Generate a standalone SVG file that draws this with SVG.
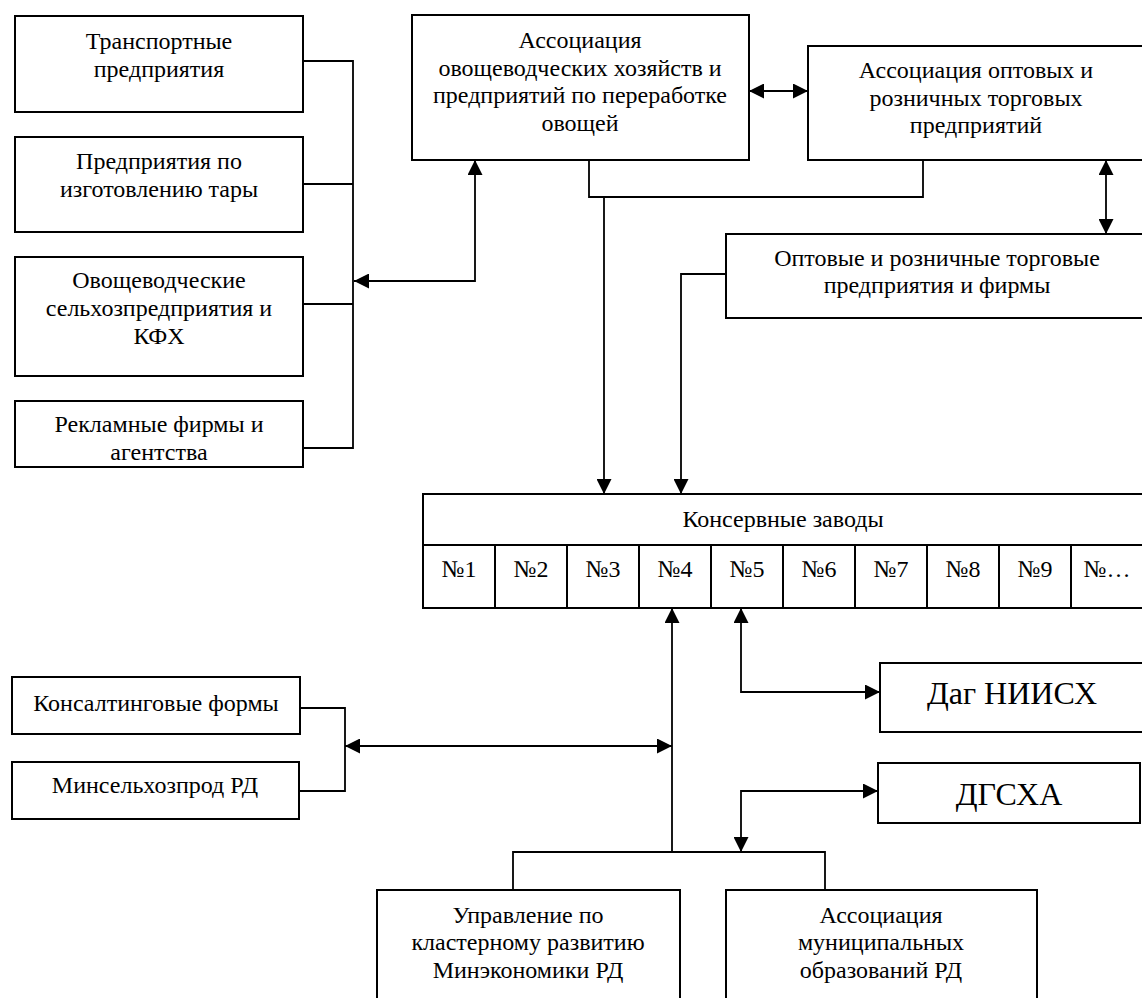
<svg xmlns="http://www.w3.org/2000/svg" width="1142" height="998" viewBox="0 0 1142 998">
<defs>
<marker id="arr" viewBox="0 0 15 15" refX="15" refY="7.5" markerWidth="15" markerHeight="15" markerUnits="userSpaceOnUse" orient="auto-start-reverse">
<path d="M0,0 L15,7.5 L0,15 z" fill="#000"/>
</marker>
<style>
.box{fill:#fff;stroke:#000;stroke-width:2}
.ln{fill:none;stroke:#000;stroke-width:1.8}
.a2{marker-start:url(#arr);marker-end:url(#arr)}
.a1{marker-end:url(#arr)}
text{font-size:24px;fill:#000;text-anchor:middle}
.big{font-size:32px}
</style>
</defs>
<rect width="1142" height="998" fill="#fff"/>
<g id="connectors">
<path class="ln" d="M303,61 H353 V448 H303 M303,184 H353 M303,304 H353"/>
<path class="ln a2" d="M354,281 H475 V160"/>
<path class="ln a2" d="M749,91 H808"/>
<path class="ln" d="M589,160 V197 H923 V160"/>
<path class="ln a1" d="M604,197 V494"/>
<path class="ln a1" d="M726,274 H681 V494"/>
<path class="ln a2" d="M1106,160 V234"/>
<path class="ln a1" d="M672,852 V608"/>
<path class="ln a2" d="M345,746 H672"/>
<path class="ln" d="M300,708 H345 V791 H299"/>
<path class="ln a2" d="M741,608 V692 H880"/>
<path class="ln a2" d="M878,791 H741 V852"/>
<path class="ln" d="M513,890 V852 H825 V890"/>
</g>
<g font-family="Liberation Serif, DejaVu Serif, serif">
<g id="n-transport">
<rect class="box" x="15" y="16" width="288" height="96"/>
<text x="159" y="49">Транспортные</text>
<text x="159" y="77">предприятия</text>
</g>
<g id="n-tara">
<rect class="box" x="15" y="137" width="288" height="95"/>
<text x="159" y="169">Предприятия по</text>
<text x="159" y="197">изготовлению тары</text>
</g>
<g id="n-ovosch">
<rect class="box" x="15" y="257" width="288" height="119"/>
<text x="159" y="288">Овощеводческие</text>
<text x="159" y="316">сельхозпредприятия и</text>
<text x="159" y="344">КФХ</text>
</g>
<g id="n-reklama">
<rect class="box" x="15" y="401" width="288" height="66"/>
<text x="159" y="432">Рекламные фирмы и</text>
<text x="159" y="460">агентства</text>
</g>
<g id="n-assoc-ovosch">
<rect class="box" x="412" y="15" width="337" height="145"/>
<text x="580" y="48">Ассоциация</text>
<text x="580" y="76">овощеводческих хозяйств и</text>
<text x="580" y="103">предприятий по переработке</text>
<text x="580" y="131">овощей</text>
</g>
<g id="n-assoc-torg">
<rect class="box" x="808" y="46" width="340" height="114"/>
<text x="976" y="78">Ассоциация оптовых и</text>
<text x="976" y="106">розничных торговых</text>
<text x="976" y="133">предприятий</text>
</g>
<g id="n-optovye">
<rect class="box" x="726" y="234" width="422" height="84"/>
<text x="937" y="266">Оптовые и розничные торговые</text>
<text x="937" y="293">предприятия и фирмы</text>
</g>
<g id="n-konserv">
<rect class="box" x="423" y="494" width="724" height="114"/>
<path class="box" d="M423,545 H1147 M495,545 V608 M567,545 V608 M639,545 V608 M711,545 V608 M783,545 V608 M855,545 V608 M927,545 V608 M999,545 V608 M1071,545 V608"/>
<text x="783" y="527">Консервные заводы</text>
<text x="459" y="577">№1</text>
<text x="531" y="577">№2</text>
<text x="603" y="577">№3</text>
<text x="675" y="577">№4</text>
<text x="747" y="577">№5</text>
<text x="819" y="577">№6</text>
<text x="891" y="577">№7</text>
<text x="963" y="577">№8</text>
<text x="1035" y="577">№9</text>
<text x="1107" y="577">№…</text>
</g>
<g id="n-konsalt">
<rect class="box" x="12" y="677" width="288" height="57"/>
<text x="156" y="711">Консалтинговые формы</text>
</g>
<g id="n-minselhoz">
<rect class="box" x="12" y="762" width="287" height="57"/>
<text x="155" y="793">Минсельхозпрод РД</text>
</g>
<g id="n-dagniish">
<rect class="box" x="880" y="663" width="270" height="69"/>
<text class="big" x="1012" y="704">Даг НИИСХ</text>
</g>
<g id="n-dgsha">
<rect class="box" x="878" y="763" width="262" height="60"/>
<text class="big" x="1009" y="805">ДГСХА</text>
</g>
<g id="n-upravlenie">
<rect class="box" x="377" y="890" width="303" height="130"/>
<text x="528" y="923">Управление по</text>
<text x="528" y="950">кластерному развитию</text>
<text x="528" y="978">Минэкономики РД</text>
</g>
<g id="n-assoc-mun">
<rect class="box" x="726" y="890" width="311" height="130"/>
<text x="881" y="923">Ассоциация</text>
<text x="881" y="950">муниципальных</text>
<text x="881" y="978">образований РД</text>
</g>
</g>
</svg>
